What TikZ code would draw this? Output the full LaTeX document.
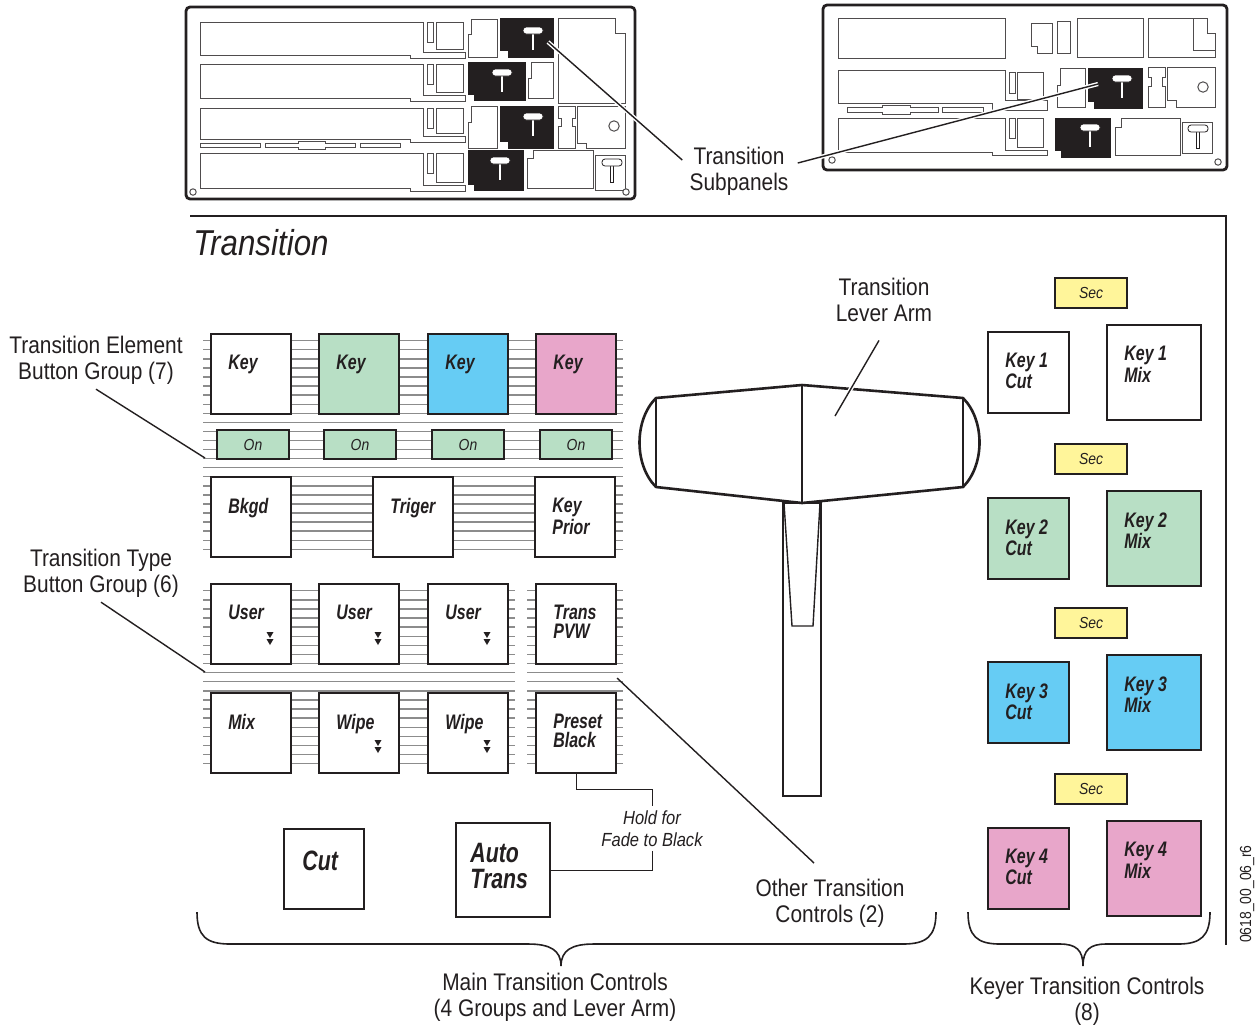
\documentclass[tikz,border=0pt]{standalone}
\usepackage{fontspec}
\setmainfont{Liberation Sans}[FakeStretch=0.87]
\newfontfamily\btnfont{Liberation Sans}[FakeStretch=0.76]
\usepackage{tikz}
\usetikzlibrary{positioning}
\definecolor{ink}{HTML}{231F20}
\definecolor{keygreen}{HTML}{B8DFC5}
\definecolor{keyblue}{HTML}{66CCF4}
\definecolor{keypink}{HTML}{E8A6CA}
\definecolor{secyellow}{HTML}{FFF59A}
\definecolor{rulegray}{HTML}{8C8C8C}
\tikzset{
  btnbox/.style={draw=ink,line width=1pt,inner sep=0pt,anchor=north west},
  btntext/.style={font=\btnfont\bfseries\itshape\fontsize{10.5}{9.3}\selectfont,align=left,inner sep=0pt,anchor=north west,text=ink},
  bigtext/.style={font=\btnfont\bfseries\itshape\fontsize{14}{13}\selectfont,align=left,inner sep=0pt,anchor=north west,text=ink},
  lamptext/.style={font=\itshape\fontsize{8}{9}\selectfont,text=ink},
  lbl/.style={font=\fontsize{12}{13}\selectfont,align=center,inner sep=2pt,anchor=north,text=ink},
  lead/.style={draw=ink,line width=0.7pt},
  halo/.style={draw=white,double=ink,double distance=0.7pt,line width=0.7pt},
  stripe/.style={draw=rulegray,line width=0.7pt},
  panel/.style={draw=ink,line width=1.4pt,rounded corners=2pt},
  part/.style={draw=ink!80,line width=0.5pt,fill=white},
  blk/.style={draw=ink,fill=ink,line width=0.5pt},
  lever/.style={draw=ink,line width=1.3pt,line join=round},
  leverline/.style={draw=ink,line width=0.7pt},
  brace/.style={draw=ink,line width=0.8pt},
}
% push button: name, left, top, width, height, fill, caption
\newcommand{\pushbtn}[7]{%
  \node[btnbox,fill=#6,minimum width=#4*0.5pt,minimum height=#5*0.5pt] (#1) at (#2,#3) {};
  \node[btntext] (#1-cap) at (#2+18,#3+22) {#7};}
% flat lamp button: name, left, top, width, height, fill, caption
\newcommand{\lampbtn}[7]{%
  \node[btnbox,lamptext,fill=#6,minimum width=#4*0.5pt,minimum height=#5*0.5pt] (#1) at (#2,#3) {#7};}
% double down arrow (menu marker)
\newcommand{\dnarrows}[2]{%
  \fill[ink] (#1-3.5,#2) -- (#1+3.5,#2) -- (#1,#2+6) -- cycle;
  \fill[ink] (#1-3.5,#2+7) -- (#1+3.5,#2+7) -- (#1,#2+13) -- cycle;}
% little T-handle on the panel sketches
\newcommand{\thandle}[2]{%
  \draw[fill=white,draw=ink,line width=0.4pt] (#1-1.8,#2+3) rectangle (#1+1.8,#2+20);
  \draw[fill=white,draw=ink,line width=0.4pt,rounded corners=1.5pt] (#1-10,#2-3) rectangle (#1+10,#2+4);}

\begin{document}
\begin{tikzpicture}[x=0.5pt,y=-0.5pt]
  \useasboundingbox (0,0) rectangle (1257,1025);

  % ---- left control panel sketch
  \draw[panel] (186,7) rectangle (635,199);
  \foreach \t/\b in {22/55,64/98,108/139,153/188} {
    \draw[part] (200,\t) -- (423,\t) -- (423,\b-3) -- (465,\b-3) -- (465,\b+3) -- (410,\b+3) -- (410,\b) -- (200,\b) -- cycle;
    \draw[part] (427,\t) rectangle (433,\t+20);
    \draw[part] (436,\t) rectangle (463,\b-6);
  }
  \draw[part] (200,143) rectangle (260,147);
  \draw[part] (265,143) -- (298,143) -- (298,141) -- (325,141) -- (325,143) -- (355,143) -- (355,147) -- (325,147) -- (325,149) -- (298,149) -- (298,147) -- (265,147) -- cycle;
  \draw[part] (360,143) rectangle (400,147);
  \draw[part] (471,19) -- (497,19) -- (497,57) -- (468,57) -- (468,34) -- (471,34) -- cycle;
  \draw[blk] (500,18) -- (553,18) -- (553,57) -- (508,57) -- (508,50) -- (500,50) -- cycle;
  \draw[part] (558,18) -- (615,18) -- (615,33) -- (625,33) -- (625,103) -- (558,103) -- cycle;
  \draw[blk] (468,62) -- (525,62) -- (525,100) -- (474,100) -- (474,94) -- (468,94) -- cycle;
  \draw[part] (531,62) -- (553,62) -- (553,98) -- (528,98) -- (528,78) -- (531,78) -- cycle;
  \draw[part] (471,106) -- (497,106) -- (497,148) -- (468,148) -- (468,122) -- (471,122) -- cycle;
  \draw[blk] (500,106) -- (553,106) -- (553,148) -- (508,148) -- (508,141) -- (500,141) -- cycle;
  \draw[part] (558,106) -- (575,106) -- (575,118) -- (572,118) -- (572,126) -- (575,126) -- (575,148) -- (558,148) -- (558,126) -- (561,126) -- (561,118) -- (558,118) -- cycle;
  \draw[part] (577,106) -- (625,106) -- (625,148) -- (586,148) -- (586,143) -- (577,143) -- cycle;
  \draw[part] (614,126) circle (2.6pt);
  \draw[blk] (468,150) -- (523,150) -- (523,190) -- (474,190) -- (474,184) -- (468,184) -- cycle;
  \draw[part] (533,150) -- (593,150) -- (593,188) -- (527,188) -- (527,158) -- (533,158) -- cycle;
  \draw[part] (595,155) rectangle (625,190);
  \draw[part] (193,192) circle (1.6pt);
  \draw[part] (626,192) circle (1.6pt);
  \thandle{533}{30}\thandle{502}{72}\thandle{533}{116}\thandle{500}{160}\thandle{612}{162}

  % ---- right control panel sketch
  \draw[panel] (823,5) rectangle (1227,170);
  \draw[part] (838,18) rectangle (1005,58);
  \draw[part] (1031,23) -- (1052,23) -- (1052,53) -- (1037,53) -- (1037,46) -- (1031,46) -- cycle;
  \draw[part] (1057,21) rectangle (1070,53);
  \draw[part] (1077,18) rectangle (1143,57);
  \draw[part] (1148,18) -- (1207,18) -- (1207,33) -- (1215,33) -- (1215,57) -- (1148,57) -- cycle;
  \draw[part] (1193,18) -- (1193,50) -- (1215,50);
  \draw[part] (838,70) -- (1005,70) -- (1005,100) -- (1047,100) -- (1047,110) -- (992,110) -- (992,103) -- (838,103) -- cycle;
  \draw[part] (847,107) -- (882,107) -- (882,105) -- (910,105) -- (910,107) -- (938,107) -- (938,112) -- (910,112) -- (910,114) -- (882,114) -- (882,112) -- (847,112) -- cycle;
  \draw[part] (942,107) rectangle (983,112);
  \draw[part] (1009,72) rectangle (1015,93);
  \draw[part] (1017,72) rectangle (1043,99);
  \draw[part] (1060,68) -- (1085,68) -- (1085,107) -- (1057,107) -- (1057,85) -- (1060,85) -- cycle;
  \draw[blk] (1088,68) -- (1142,68) -- (1142,108) -- (1094,108) -- (1094,101) -- (1088,101) -- cycle;
  \draw[part] (1148,67) -- (1165,67) -- (1165,77) -- (1162,77) -- (1162,86) -- (1165,86) -- (1165,107) -- (1148,107) -- (1148,86) -- (1151,86) -- (1151,77) -- (1148,77) -- cycle;
  \draw[part] (1167,67) -- (1215,67) -- (1215,107) -- (1176,107) -- (1176,100) -- (1167,100) -- cycle;
  \draw[part] (1203,87) circle (2.6pt);
  \draw[part] (838,118) -- (1005,118) -- (1005,150) -- (1047,150) -- (1047,155) -- (992,155) -- (992,152) -- (838,152) -- cycle;
  \draw[part] (1009,118) rectangle (1015,138);
  \draw[part] (1017,118) rectangle (1043,147);
  \draw[blk] (1055,118) -- (1110,118) -- (1110,157) -- (1061,157) -- (1061,150) -- (1055,150) -- cycle;
  \draw[part] (1121,118) -- (1180,118) -- (1180,155) -- (1115,155) -- (1115,127) -- (1121,127) -- cycle;
  \draw[part] (1182,122) rectangle (1212,153);
  \draw[part] (832,160) circle (1.6pt);
  \draw[part] (1218,162) circle (1.6pt);
  \thandle{1122}{78}\thandle{1090}{127}\thandle{1198}{128}

  % subpanel callout
  \node[lbl] (sublbl) at (739,143) {Transition\\Subpanels};
  \coordinate (subp-l) at (548,42);
  \coordinate (subp-r) at (1098,84);
  \draw[halo] (sublbl.north west) ++(-3,17) -- (subp-l);
  \draw[halo] (sublbl.north east) ++(5,20) -- (subp-r);

  % ---- transition area
  \draw[lead] (190,216) -- (1226,216) -- (1226,945);
  \node[font=\itshape\fontsize{18}{20}\selectfont,anchor=north west,inner sep=0pt,text=ink] (title) at (193,229) {Transition};
  \node[font=\fontsize{8}{9}\selectfont,rotate=90,inner sep=0pt,text=ink] (figid) at (1247,894) {0618\_00\_06\_r6};

  % button rails
  \foreach \k in {0,...,23}
    \draw[stripe] (203,340.7+9.07*\k) -- (623,340.7+9.07*\k);
  \foreach \k in {0,...,19} {
    \draw[stripe] (203,590.7+9.1*\k) -- (515,590.7+9.1*\k);
    \draw[stripe] (527,590.7+9.1*\k) -- (623,590.7+9.1*\k);
  }

  % element group
  \pushbtn{key1}{210}{333}{80}{80}{white}{Key}
  \pushbtn{key2}{318}{333}{80}{80}{keygreen}{Key}
  \pushbtn{key3}{427}{333}{80}{80}{keyblue}{Key}
  \pushbtn{key4}{535}{333}{80}{80}{keypink}{Key}
  \lampbtn{on1}{216}{429}{72}{29}{keygreen}{On}
  \lampbtn{on2}{323}{429}{72}{29}{keygreen}{On}
  \lampbtn{on3}{431}{429}{72}{29}{keygreen}{On}
  \lampbtn{on4}{539}{429}{72}{29}{keygreen}{On}
  \pushbtn{bkgd}{210}{476}{80}{80}{white}{Bkgd}
  \pushbtn{trig}{372}{476}{80}{80}{white}{Triger}
  \pushbtn{kprior}{534}{476}{80}{80}{white}{Key\\Prior}

  % type group and other controls
  \pushbtn{user1}{210}{583}{80}{80}{white}{User}
  \pushbtn{user2}{318}{583}{80}{80}{white}{User}
  \pushbtn{user3}{427}{583}{80}{80}{white}{User}
  \pushbtn{tpvw}{535}{583}{80}{80}{white}{Trans\\PVW}
  \pushbtn{mix}{210}{692}{80}{80}{white}{Mix}
  \pushbtn{wipe1}{318}{692}{80}{80}{white}{Wipe}
  \pushbtn{wipe2}{427}{692}{80}{80}{white}{Wipe}
  \pushbtn{pblk}{535}{692}{80}{80}{white}{Preset\\Black}
  \dnarrows{270}{632}\dnarrows{378}{632}\dnarrows{487}{632}
  \dnarrows{378}{740}\dnarrows{487}{740}

  \node[btnbox,fill=white,minimum width=40pt,minimum height=40pt] (cut) at (283,828) {};
  \node[bigtext] (cut-cap) at (302,851) {Cut};
  \node[btnbox,fill=white,minimum width=47pt,minimum height=47pt] (auto) at (455,822) {};
  \node[bigtext] (auto-cap) at (470,843) {Auto\\Trans};

  \node[font=\itshape\fontsize{9.5}{11}\selectfont,align=center,inner sep=2pt,anchor=north,text=ink] (hold) at (652,806) {Hold for\\Fade to Black};
  \draw[draw=ink,line width=0.5pt] (pblk.south) -- ++(0,15) -| (hold.north);
  \draw[draw=ink,line width=0.5pt] (hold.south) |- (auto.east);

  % lever arm
  \draw[leverline] (783,503) rectangle (821,796);
  \draw[leverline] (784,503) -- (792,626) -- (813,626) -- (820,503);
  \draw[lever,fill=white] (656,398) -- (802,385) -- (963,398) .. controls (985,420) and (985,465) .. (963,487) -- (802,503) -- (656,487) .. controls (634,465) and (634,420) .. (656,398) -- cycle;
  \draw[leverline] (656,398) -- (656,487) (963,398) -- (963,487) (802,385) -- (802,503);

  % keyer column
  \lampbtn{sec1}{1054}{277}{72}{30}{secyellow}{Sec}
  \pushbtn{k1cut}{987}{331}{81}{81}{white}{Key 1\\Cut}
  \pushbtn{k1mix}{1106}{324}{94}{95}{white}{Key 1\\Mix}
  \lampbtn{sec2}{1054}{443}{72}{30}{secyellow}{Sec}
  \pushbtn{k2cut}{987}{497}{81}{81}{keygreen}{Key 2\\Cut}
  \pushbtn{k2mix}{1106}{490}{94}{95}{keygreen}{Key 2\\Mix}
  \lampbtn{sec3}{1054}{607}{72}{30}{secyellow}{Sec}
  \pushbtn{k3cut}{987}{661}{81}{81}{keyblue}{Key 3\\Cut}
  \pushbtn{k3mix}{1106}{654}{94}{95}{keyblue}{Key 3\\Mix}
  \lampbtn{sec4}{1054}{773}{72}{30}{secyellow}{Sec}
  \pushbtn{k4cut}{987}{827}{81}{81}{keypink}{Key 4\\Cut}
  \pushbtn{k4mix}{1106}{820}{94}{95}{keypink}{Key 4\\Mix}

  % callouts
  \node[lbl] (levlbl) at (884,274) {Transition\\Lever Arm};
  \coordinate (lev-pt) at (835,416);
  \draw[halo] (levlbl.south) ++(-5,14) -- (lev-pt);
  \node[lbl] (elemlbl) at (96,332) {Transition Element\\Button Group (7)};
  \coordinate (elem-pt) at (205,458);
  \draw[lead] (elemlbl.south) -- (elem-pt);
  \node[lbl] (typelbl) at (101,545) {Transition Type\\Button Group (6)};
  \coordinate (type-pt) at (205,672);
  \draw[lead] (typelbl.south) -- (type-pt);
  \node[lbl] (othlbl) at (830,875) {Other Transition\\Controls (2)};
  \coordinate (oth-pt) at (617,678);
  \draw[lead] (othlbl.north) ++(-16,-12) -- (oth-pt);

  % braces
  \draw[brace] (197,912) .. controls (197,936) and (206,944) .. (230,944) -- (528,944)
    .. controls (550,944) and (561,950) .. (561,966) .. controls (561,950) and (572,944) .. (594,944)
    -- (903,944) .. controls (927,944) and (936,936) .. (936,912);
  \draw[brace] (968,912) .. controls (968,936) and (977,944) .. (1000,944) -- (1060,944)
    .. controls (1076,944) and (1083,950) .. (1083,966) .. controls (1083,950) and (1090,944) .. (1106,944)
    -- (1178,944) .. controls (1201,944) and (1210,936) .. (1210,912);
  \node[lbl] (mainlbl) at (555,969) {Main Transition Controls\\(4 Groups and Lever Arm)};
  \node[lbl] (keylbl) at (1087,973) {Keyer Transition Controls\\(8)};
\end{tikzpicture}
\end{document}
